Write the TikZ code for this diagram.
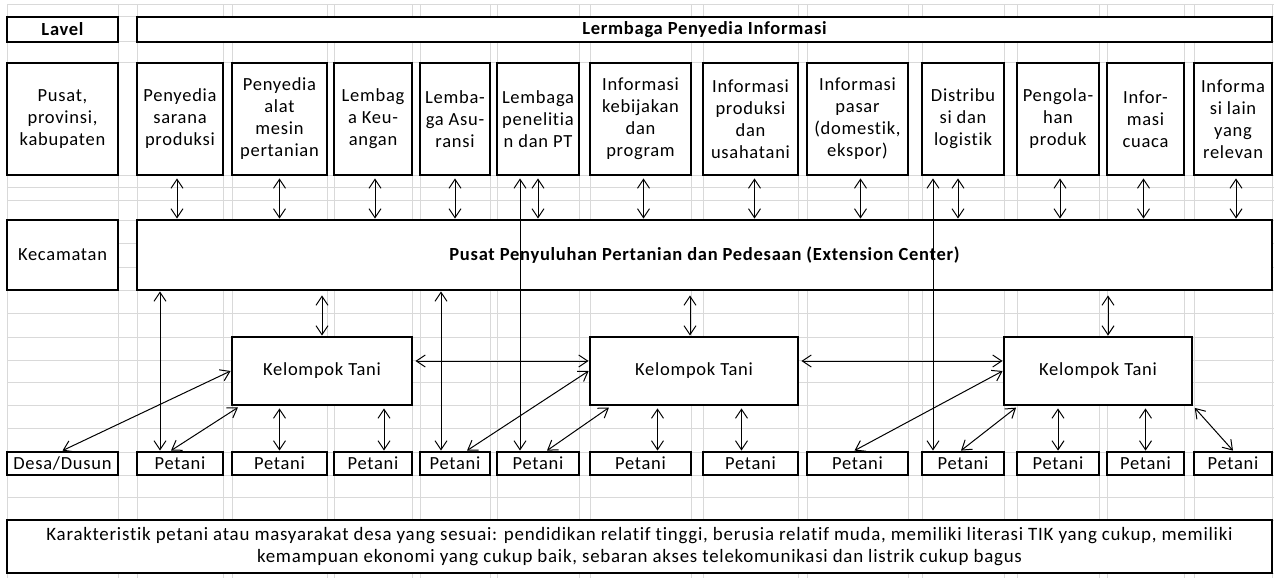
\documentclass[tikz,border=0pt]{standalone}
\usepackage{fontspec}
\setmainfont{Carlito}[LetterSpace=4,Ligatures=NoCommon]
\usetikzlibrary{arrows.meta}

\begin{document}
\begin{tikzpicture}[x=1pt,y=-1pt,
  kotak/.style={draw=black,fill=white,line width=2.8pt,inner sep=0pt,align=center,font=\fontsize{18.5}{22}\selectfont},
  panah/.style={{Straight Barb[length=9pt,width=12pt]}-{Straight Barb[length=9pt,width=12pt]},line width=1pt},
  kisi/.style={draw=black!15,line width=1pt}]
\useasboundingbox (0,0) rectangle (1274,578);

% garis kisi latar
\foreach \y in {5,17,42,63,175,187,200,220,243,267,290,313,337,360,382,405,428,452,475,497,520,573}
  \draw[kisi] (7,\y) -- (1274,\y);
\foreach \x in {7,118,137,223,232,327,334,412,420,490,497,579,590,691,703,798,807,908,922,1004,1017,1099,1107,1184,1194,1272}
  \draw[kisi] (\x,5) -- (\x,578);

% baris judul
\node (lav) at (62.5,29.5) [kotak, minimum width=111pt, minimum height=25pt, font=\fontsize{18.5}{22}\selectfont\bfseries] {Lavel};
\node (lpi) at (704.5,29.5) [kotak, line width=2.2pt, minimum width=1135pt, minimum height=25pt, font=\fontsize{18.5}{22}\selectfont\bfseries] {Lermbaga Penyedia Informasi};

% lembaga penyedia informasi
\node (i0) at (62.5,119) [kotak, minimum width=111pt, minimum height=112pt] {Pusat,\\provinsi,\\kabupaten};
\node (i1) at (180,119) [kotak, minimum width=86pt, minimum height=112pt] {Penyedia\\sarana\\produksi};
\node (i2) at (279.5,119) [kotak, minimum width=95pt, minimum height=112pt] {Penyedia\\alat\\mesin\\pertanian};
\node (i3) at (373,119) [kotak, minimum width=78pt, minimum height=112pt] {Lembag\\a Keu-\\angan};
\node (i4) at (455,119) [kotak, minimum width=70pt, minimum height=112pt] {Lemba-\\ga Asu-\\ransi};
\node (i5) at (538,119) [kotak, minimum width=82pt, minimum height=112pt] {Lembaga\\penelitia\\n dan PT};
\node (i6) at (640.5,119) [kotak, minimum width=101pt, minimum height=112pt] {Informasi\\kebijakan\\dan\\program};
\node (i7) at (750.5,119) [kotak, minimum width=95pt, minimum height=112pt] {Informasi\\produksi\\dan\\usahatani};
\node (i8) at (857.5,119) [kotak, minimum width=101pt, minimum height=112pt] {Informasi\\pasar\\(domestik,\\ekspor)};
\node (i9) at (963,119) [kotak, minimum width=82pt, minimum height=112pt] {Distribu\\si dan\\logistik};
\node (i10) at (1058,119) [kotak, minimum width=82pt, minimum height=112pt] {Pengola-\\han\\produk};
\node (i11) at (1145.5,119) [kotak, minimum width=77pt, minimum height=112pt] {Infor-\\masi\\cuaca};
\node (i12) at (1233,119) [kotak, minimum width=78pt, minimum height=112pt] {Informa\\si lain\\yang\\relevan};

% kecamatan
\node (kec) at (62.5,255) [kotak, minimum width=111pt, minimum height=70pt] {Kecamatan};
\node (ppp) at (704.5,255) [kotak, minimum width=1135pt, minimum height=70pt, font=\fontsize{18.5}{22}\selectfont\bfseries] {Pusat Penyuluhan Pertanian dan Pedesaan (Extension Center)};

% kelompok tani
\node (kt1) at (322,371) [kotak, minimum width=180pt, minimum height=68pt] {Kelompok Tani};
\node (kt2) at (694,371) [kotak, minimum width=208pt, minimum height=68pt] {Kelompok Tani};
\node (kt3) at (1098,371) [kotak, minimum width=188pt, minimum height=68pt] {Kelompok Tani};

% desa dan petani
\node (desa) at (62.5,463.5) [kotak, minimum width=111pt, minimum height=23pt] {Desa/Dusun};
\node (p1) at (180,463.5) [kotak, minimum width=86pt, minimum height=23pt] {Petani};
\node (p2) at (279.5,463.5) [kotak, minimum width=95pt, minimum height=23pt] {Petani};
\node (p3) at (373,463.5) [kotak, minimum width=78pt, minimum height=23pt] {Petani};
\node (p4) at (455,463.5) [kotak, minimum width=70pt, minimum height=23pt] {Petani};
\node (p5) at (538,463.5) [kotak, minimum width=82pt, minimum height=23pt] {Petani};
\node (p6) at (640.5,463.5) [kotak, minimum width=101pt, minimum height=23pt] {Petani};
\node (p7) at (750.5,463.5) [kotak, minimum width=95pt, minimum height=23pt] {Petani};
\node (p8) at (857.5,463.5) [kotak, minimum width=101pt, minimum height=23pt] {Petani};
\node (p9) at (963,463.5) [kotak, minimum width=82pt, minimum height=23pt] {Petani};
\node (p10) at (1058,463.5) [kotak, minimum width=82pt, minimum height=23pt] {Petani};
\node (p11) at (1145.5,463.5) [kotak, minimum width=77pt, minimum height=23pt] {Petani};
\node (p12) at (1233,463.5) [kotak, minimum width=78pt, minimum height=23pt] {Petani};

% karakteristik
\node (kar) at (639.5,546.5) [kotak, line width=2.2pt, minimum width=1265pt, minimum height=53pt, font=\fontsize{18.9}{22}\selectfont] {Karakteristik petani atau masyarakat desa yang sesuai: pendidikan relatif tinggi, berusia relatif muda, memiliki literasi TIK yang cukup, memiliki\\kemampuan ekonomi yang cukup baik, sebaran akses telekomunikasi dan listrik cukup bagus};

% lembaga <-> pusat penyuluhan
\draw[panah,shorten <=2pt] ([xshift=-3pt]i1.south) -- ([xshift=-3pt]i1.south |- ppp.north);
\draw[panah,shorten <=2pt] (i2.south) -- (i2.south |- ppp.north);
\draw[panah,shorten <=2pt] ([xshift=2pt]i3.south) -- ([xshift=2pt]i3.south |- ppp.north);
\draw[panah,shorten <=2pt] (i4.south) -- (i4.south |- ppp.north);
\draw[panah,shorten <=2pt] (i5.south) -- (i5.south |- ppp.north);
\draw[panah,shorten <=2pt] ([xshift=3pt]i6.south) -- ([xshift=3pt]i6.south |- ppp.north);
\draw[panah,shorten <=2pt] ([xshift=4pt]i7.south) -- ([xshift=4pt]i7.south |- ppp.north);
\draw[panah,shorten <=2pt] ([xshift=3pt]i8.south) -- ([xshift=3pt]i8.south |- ppp.north);
\draw[panah,shorten <=2pt] ([xshift=-5pt]i9.south) -- ([xshift=-5pt]i9.south |- ppp.north);
\draw[panah,shorten <=2pt] ([xshift=2pt]i10.south) -- ([xshift=2pt]i10.south |- ppp.north);
\draw[panah,shorten <=2pt] ([xshift=-2pt]i11.south) -- ([xshift=-2pt]i11.south |- ppp.north);
\draw[panah,shorten <=2pt] ([xshift=3pt]i12.south) -- ([xshift=3pt]i12.south |- ppp.north);

% garis panjang petani <-> lembaga
\draw[panah,shorten >=2pt] ([xshift=-18pt]p5.north) -- ([xshift=-18pt]i5.south);
\draw[panah,shorten >=2pt] ([xshift=-30pt]p9.north) -- ([xshift=-30pt]i9.south);

% pusat penyuluhan ke bawah
\draw[panah] ([xshift=-20pt]p1.north) -- ([xshift=-20pt]p1.north |- ppp.south);
\draw[panah] ([xshift=-14pt]p4.north) -- ([xshift=-14pt]p4.north |- ppp.south);
\draw[panah,shorten >=4pt] (kt1.north) -- (kt1.north |- ppp.south);
\draw[panah,shorten >=4pt] ([xshift=-4pt]kt2.north) -- ([xshift=-4pt]kt2.north |- ppp.south);
\draw[panah,shorten >=4pt] ([xshift=10pt]kt3.north) -- ([xshift=10pt]kt3.north |- ppp.south);

% antar kelompok tani
\draw[panah,shorten <=2pt] ([yshift=10pt]kt1.east) -- ([yshift=10pt]kt2.west);
\draw[panah,shorten <=2pt] ([yshift=10pt]kt2.east) -- ([yshift=10pt]kt3.west);

% kelompok tani <-> petani
\draw[panah] (desa.north) -- (kt1.west);
\draw[panah,shorten >=2pt] ([xshift=-9pt]p1.north) -- ([xshift=9pt]kt1.south west);
\draw[panah,shorten <=2pt] (kt1.south -| p2.north) -- (p2.north);
\draw[panah,shorten <=2pt] ([xshift=11pt]kt1.south -| p3.north) -- ([xshift=11pt]p3.north);
\draw[panah] ([xshift=12pt]p4.north) -- (kt2.west);
\draw[panah,shorten >=2pt] ([xshift=9pt]p5.north) -- ([xshift=22pt]kt2.south west);
\draw[panah,shorten <=2pt] ([xshift=17pt]kt2.south -| p6.north) -- ([xshift=17pt]p6.north);
\draw[panah,shorten <=2pt] ([xshift=-9pt]kt2.south -| p7.north) -- ([xshift=-9pt]p7.north);
\draw[panah] ([xshift=-3pt]p8.north) -- (kt3.west);
\draw[panah,shorten >=2pt] ([xshift=-2pt]p9.north) -- ([xshift=15pt]kt3.south west);
\draw[panah,shorten <=2pt] (kt3.south -| p10.north) -- (p10.north);
\draw[panah,shorten <=2pt] (kt3.south -| p11.north) -- (p11.north);
\draw[panah,shorten <=2pt] (kt3.south east) -- (p12.north);

\end{tikzpicture}
\end{document}
